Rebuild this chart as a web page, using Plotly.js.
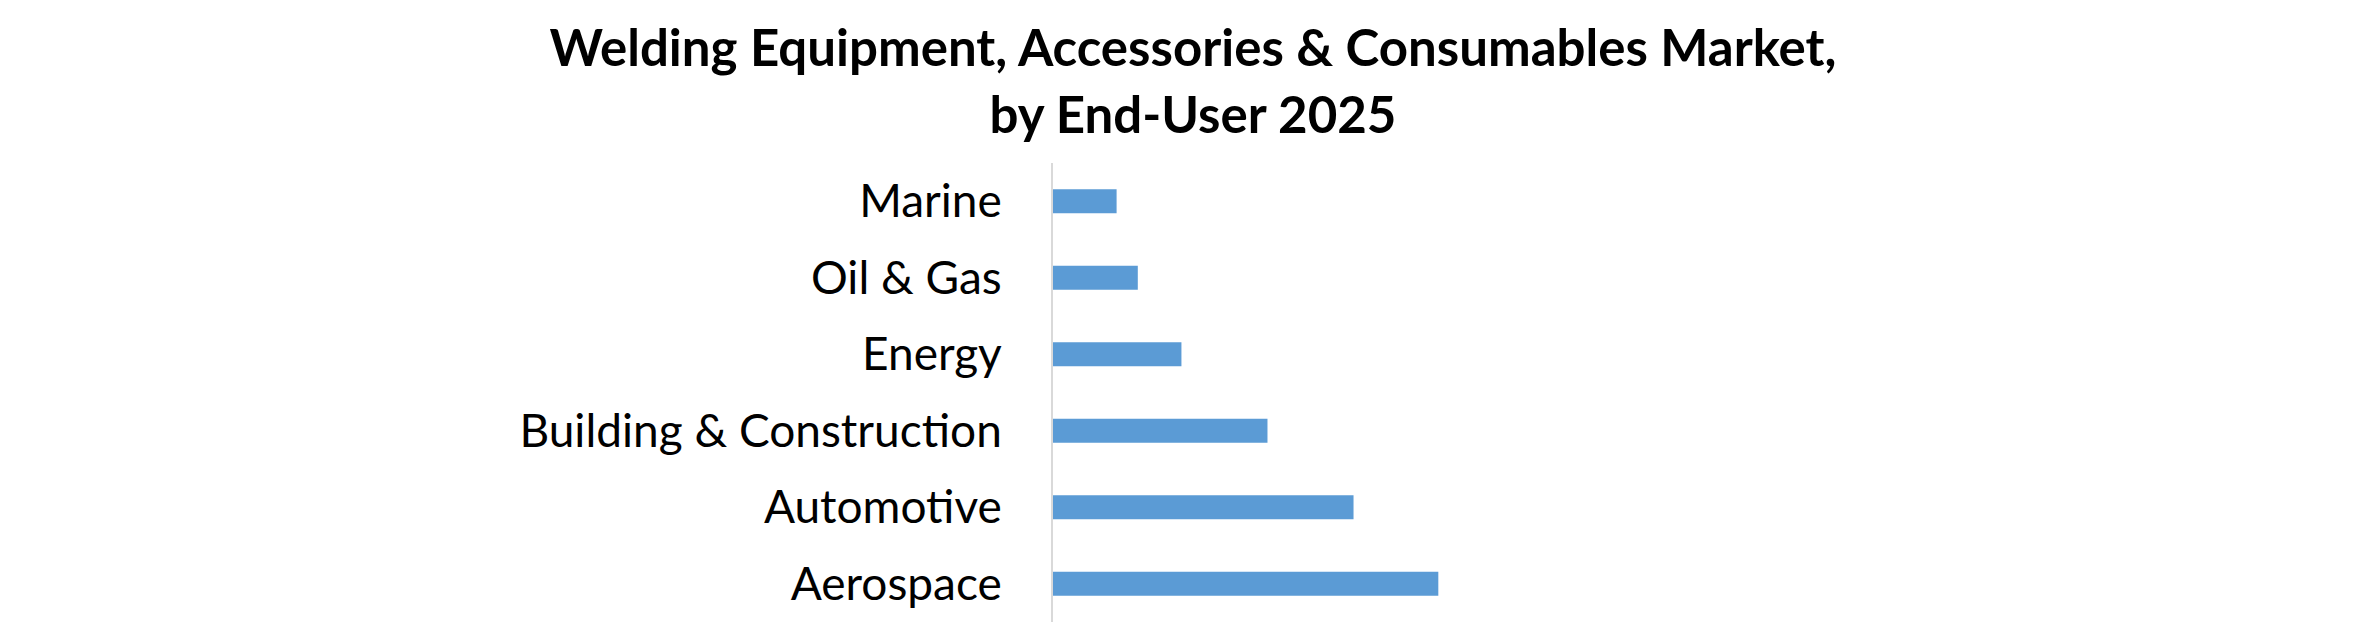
<!DOCTYPE html>
<html>
<head>
<meta charset="utf-8">
<script src="https://cdn.plot.ly/plotly-3.0.1.min.js"></script>
<style>
	html, body { margin: 0; padding: 0; background: #ffffff; }
	#chart { width: 2354px; height: 644px; }
</style>
</head>
<body>
<div id="chart"></div>
<script>
'use strict';

// end-user segments, bottom to top as drawn
const categories = ["Aerospace", "Automotive", "Building & Construction", "Energy", "Oil & Gas", "Marine"];
// relative share (no axis shown)
const shares = [30.9, 24.1, 17.2, 10.3, 6.8, 5.1];

const titleText = "<b>Welding Equipment, Accessories & Consumables Market,<br>by End-User 2025</b>";

const fontFamily = "Lato, 'Open Sans', sans-serif";
const barColor = "#5b9bd5";

const trace = {
	type: "bar",
	orientation: "h",
	x: shares,
	y: categories,
	marker: { color: barColor },
	hoverinfo: "none"
};

const layout = {
	width: 2354,
	height: 644,
	paper_bgcolor: "#ffffff",
	plot_bgcolor: "#ffffff",
	margin: { l: 1053, r: 54, t: 163, b: 22 },
	showlegend: false,
	bargap: 0.686,
	title: {
		text: titleText,
		font: { family: fontFamily, size: 51, color: "#000000" },
		xref: "container",
		x: 0.5068,
		xanchor: "center",
		yref: "container",
		y: 0.897,
		yanchor: "top"
	},
	xaxis: {
		range: [0, 100],
		showgrid: false,
		zeroline: false,
		showline: false,
		showticklabels: false,
		ticks: ""
	},
	yaxis: {
		type: "category",
		showgrid: false,
		zeroline: false,
		showline: true,
		linecolor: "#d9d9d9",
		linewidth: 2,
		ticks: "",
		ticklabelstandoff: 40,
		tickfont: { family: fontFamily, size: 46, color: "#000000" }
	}
};

Plotly.newPlot("chart", [trace], layout, { staticPlot: true, displayModeBar: false });
</script>
</body>
</html>
